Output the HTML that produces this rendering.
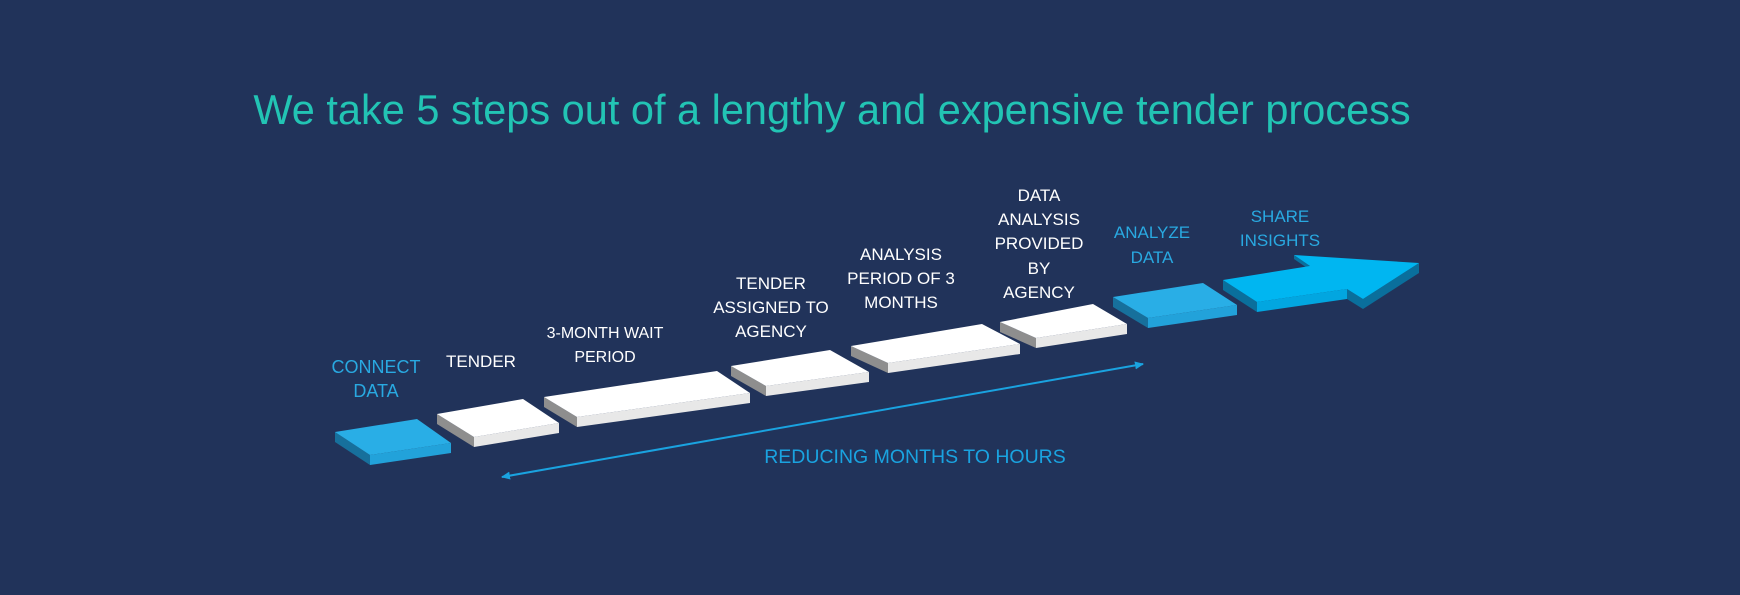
<!DOCTYPE html>
<html><head><meta charset="utf-8"><style>
html,body{margin:0;padding:0;background:#21335a;}
svg{display:block}
text{font-family:"Liberation Sans",Arial,sans-serif;}
</style></head><body>
<svg width="1740" height="595" viewBox="0 0 1740 595" xmlns="http://www.w3.org/2000/svg">
<rect width="1740" height="595" fill="#21335a"/>
<defs>
<marker id="ah" markerWidth="10" markerHeight="10" refX="8" refY="5" orient="auto-start-reverse" markerUnits="userSpaceOnUse"><path d="M0,1 L9,5 L0,9 Z" fill="#1aa3e0"/></marker>
</defs>
<text x="832" y="124" font-size="41.5" fill="#22c4b4" text-anchor="middle">We take 5 steps out of a lengthy and expensive tender process</text>

<!-- connect data -->
<polygon points="335,432 370,455 370,465 335,442" fill="#17709c"/>
<polygon points="370,455 451,443 451,453 370,465" fill="#22a2da"/>
<polygon points="335,432 417,419 451,443 370,455" fill="#29aee6"/>
<!-- tender -->
<polygon points="437,414 474,437 474,447 437,424" fill="#8e8e8e"/>
<polygon points="474,437 559,423 559,433 474,447" fill="#e8e8e8"/>
<polygon points="437,414 523,399 559,423 474,437" fill="#ffffff"/>
<!-- 3 month -->
<polygon points="544,397 577,417 577,427 544,407" fill="#8e8e8e"/>
<polygon points="577,417 750,393 750,403 577,427" fill="#e8e8e8"/>
<polygon points="544,397 717,371 750,393 577,417" fill="#ffffff"/>
<!-- tender assigned -->
<polygon points="731,366 766,386 766,396 731,376" fill="#8e8e8e"/>
<polygon points="766,386 869,372 869,382 766,396" fill="#e8e8e8"/>
<polygon points="731,366 830,350 869,372 766,386" fill="#ffffff"/>
<!-- analysis period -->
<polygon points="851,346 888,363 888,373 851,356" fill="#8e8e8e"/>
<polygon points="888,363 1020,344 1020,354 888,373" fill="#e8e8e8"/>
<polygon points="851,346 982,324 1020,344 888,363" fill="#ffffff"/>
<!-- data analysis -->
<polygon points="1000,322 1036,338 1036,348 1000,332" fill="#8e8e8e"/>
<polygon points="1036,338 1127,324 1127,334 1036,348" fill="#e8e8e8"/>
<polygon points="1000,322 1093,304 1127,324 1036,338" fill="#ffffff"/>
<!-- analyze data -->
<polygon points="1113,297 1148,318 1148,328 1113,307" fill="#17709c"/>
<polygon points="1148,318 1237,305 1237,315 1148,328" fill="#22a2da"/>
<polygon points="1113,297 1203,283 1237,305 1148,318" fill="#29aee6"/>
<!-- share arrow -->
<polygon points="1223,280 1257,302 1257,312 1223,290" fill="#0a6f9c"/>
<polygon points="1257,302 1347,289 1347,299 1257,312" fill="#02a6e0"/>
<polygon points="1347,289 1363,299 1363,309 1347,299" fill="#0a6f9c"/>
<polygon points="1363,299 1419,263 1419,273 1363,309" fill="#0a6f9c"/>
<polygon points="1294,255 1310,266 1310,270 1294,259" fill="#0a6f9c"/>
<polygon points="1223,280 1310,266 1294,255 1419,263 1363,299 1347,289 1257,302" fill="#00b6f1"/>

<!-- double arrow -->
<line x1="502" y1="477" x2="1143" y2="364" stroke="#1aa3e0" stroke-width="2" marker-start="url(#ah)" marker-end="url(#ah)"/>

<g font-size="17" text-anchor="middle">
<text x="376" y="373" fill="#29a9e1" font-size="18">CONNECT</text>
<text x="376" y="397" fill="#29a9e1" font-size="18">DATA</text>
<text x="481" y="367" fill="#ffffff">TENDER</text>
<text x="605" y="338" fill="#ffffff" font-size="16">3-MONTH WAIT</text>
<text x="605" y="362" fill="#ffffff" font-size="16">PERIOD</text>
<text x="771" y="289" fill="#ffffff">TENDER</text>
<text x="771" y="313" fill="#ffffff">ASSIGNED TO</text>
<text x="771" y="337" fill="#ffffff">AGENCY</text>
<text x="901" y="260" fill="#ffffff">ANALYSIS</text>
<text x="901" y="284" fill="#ffffff">PERIOD OF 3</text>
<text x="901" y="308" fill="#ffffff">MONTHS</text>
<text x="1039" y="201" fill="#ffffff">DATA</text>
<text x="1039" y="225" fill="#ffffff">ANALYSIS</text>
<text x="1039" y="249" fill="#ffffff">PROVIDED</text>
<text x="1039" y="274" fill="#ffffff">BY</text>
<text x="1039" y="298" fill="#ffffff">AGENCY</text>
<text x="1152" y="238" fill="#29a9e1">ANALYZE</text>
<text x="1152" y="263" fill="#29a9e1">DATA</text>
<text x="1280" y="222" fill="#29a9e1">SHARE</text>
<text x="1280" y="246" fill="#29a9e1">INSIGHTS</text>
<text x="915" y="463" fill="#1aa3e0" font-size="19.5">REDUCING MONTHS TO HOURS</text>
</g>
</svg>
</body></html>
